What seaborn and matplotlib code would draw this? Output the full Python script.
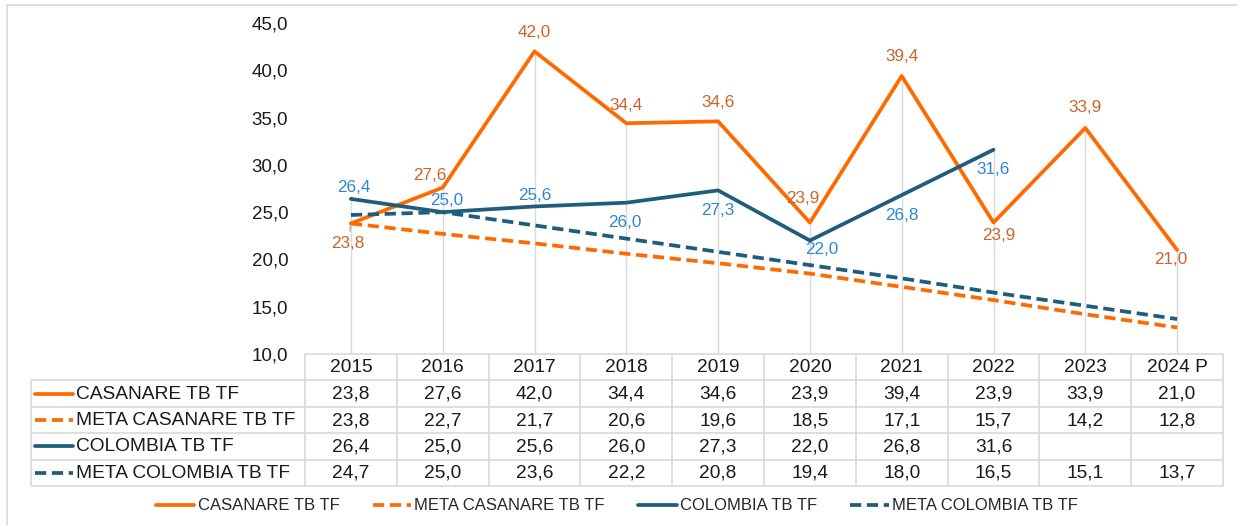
import numpy as np
import pandas as pd
import matplotlib
matplotlib.use("Agg")
import matplotlib.pyplot as plt
from matplotlib.lines import Line2D
import seaborn as sns

years = ["2015", "2016", "2017", "2018", "2019", "2020", "2021", "2022", "2023", "2024 P"]
casanare = [23.8, 27.6, 42.0, 34.4, 34.6, 23.9, 39.4, 23.9, 33.9, 21.0]
meta_casanare = [23.8, 22.7, 21.7, 20.6, 19.6, 18.5, 17.1, 15.7, 14.2, 12.8]
colombia = [26.4, 25.0, 25.6, 26.0, 27.3, 22.0, 26.8, 31.6, np.nan, np.nan]
meta_colombia = [24.7, 25.0, 23.6, 22.2, 20.8, 19.4, 18.0, 16.5, 15.1, 13.7]
series_names = ["CASANARE TB TF", "META CASANARE TB TF", "COLOMBIA TB TF", "META COLOMBIA TB TF"]
y_ticks = [10, 15, 20, 25, 30, 35, 40, 45]

df = pd.DataFrame({"x": np.arange(len(years)), "year": years})
for name, vals in zip(series_names, [casanare, meta_casanare, colombia, meta_colombia]):
    df[name] = vals

ORANGE = "#FF6A00"
BLUE = "#1F5D7D"
ORANGE_LBL = "#C9642A"
BLUE_LBL = "#2E86D2"
GRID = "#D9D9D9"
styles = {
    "CASANARE TB TF": (ORANGE, None),
    "META CASANARE TB TF": (ORANGE, (3, 1.5)),
    "COLOMBIA TB TF": (BLUE, None),
    "META COLOMBIA TB TF": (BLUE, (3, 1.5)),
}

sns.set_theme(style="white")
plt.rcParams["font.family"] = ["Liberation Sans", "DejaVu Sans"]

def fmt(v):
    return "" if pd.isna(v) else f"{v:.1f}".replace(".", ",")

W, H = 1237, 525
fig = plt.figure(figsize=(W / 100, H / 100), dpi=100)
fig.patch.set_facecolor("white")

# figure frame (left and top edge visible)
fig.add_artist(Line2D([7 / W, 7 / W], [0, 1 - 5 / H], color=GRID, lw=1.2))
fig.add_artist(Line2D([7 / W, 1], [1 - 5 / H, 1 - 5 / H], color=GRID, lw=1.2))

col_w = 91.8
ax = fig.add_axes([305 / W, 1 - 354 / H, 918 / W, (354 - 23) / H])

# drop lines from the highest point of each category
maxes = df[series_names].max(axis=1)
ax.vlines(df["x"], 10, maxes, color=GRID, lw=1, zorder=0)

handles = []
for name in series_names:
    color, dash = styles[name]
    sns.lineplot(data=df, x="x", y=name, ax=ax, color=color, lw=2.7, zorder=3)
    line = ax.lines[-1]
    if dash is not None:
        line.set_dashes(dash)
    handles.append(line)

ax.set_xlim(-0.5, len(years) - 0.5)
ax.set_ylim(10, 45)
ax.set_xticks([])
ax.set_yticks(y_ticks)
ax.set_yticklabels([f"{t:.1f}".replace(".", ",") for t in y_ticks], fontsize=13.5, color="#1a1a1a")
ax.tick_params(axis="y", length=0, pad=12)
ax.set_xlabel("")
ax.set_ylabel("")
for s in ax.spines.values():
    s.set_visible(False)

# data labels (offsets in pixels from the point)
casanare_off = [(-3, -20), (-13, 12), (0, 19), (0, 18), (0, 19), (-7, 24), (0, 19), (5, -13), (0, 20), (-6, -10)]
colombia_off = [(3, 11), (4, 12), (0, 11), (-1, -20), (0, -20), (12, -9), (0, -20), (0, -20)]
for i, (v, off) in enumerate(zip(casanare, casanare_off)):
    kw = {}
    if i == 0:
        kw["arrowprops"] = dict(arrowstyle="-", color="#A6A6A6", lw=0.9, shrinkA=1, shrinkB=2)
    ax.annotate(fmt(v), (i, v), xytext=off, textcoords="offset pixels", ha="center", va="center",
                fontsize=12.3, color=ORANGE_LBL, zorder=5, **kw)
for i, (v, off) in enumerate(zip(colombia, colombia_off)):
    ax.annotate(fmt(v), (i, v), xytext=off, textcoords="offset pixels", ha="center", va="center",
                fontsize=12.3, color=BLUE_LBL, zorder=5)

# data table under the plot
def cx(px):
    return -0.5 + (px - 305) / col_w

tax = fig.add_axes([31 / W, 1 - 486 / H, (1223 - 31) / W, (486 - 354) / H])
tax.set_xlim(cx(31), cx(1223))
tax.set_ylim(5, 0)
tax.axis("off")
n = len(years)
tax.hlines(0, -0.5, n - 0.5, color=GRID, lw=1.2, clip_on=False)
tax.hlines([1, 2, 3, 4, 5], cx(31), n - 0.5, color=GRID, lw=1.2, clip_on=False)
tax.vlines(cx(31), 1, 5, color=GRID, lw=1.2, clip_on=False)
tax.vlines(np.arange(n + 1) - 0.5, 0, 5, color=GRID, lw=1.2, clip_on=False)

for i, yr in enumerate(years):
    tax.text(i, 0.52, yr, ha="center", va="center", fontsize=13.8, color="#1a1a1a")
for r, name in enumerate(series_names):
    color, dash = styles[name]
    key = Line2D([cx(35), cx(73)], [r + 1.5, r + 1.5], color=color, lw=2.7)
    if dash is not None:
        key.set_dashes(dash)
    tax.add_line(key)
    tax.text(cx(76), r + 1.52, name, ha="left", va="center", fontsize=13.8, color="#1a1a1a")
    for i, v in enumerate(df[name]):
        tax.text(i, r + 1.52, fmt(v), ha="center", va="center", fontsize=13.8, color="#1a1a1a")

fig.legend(handles, series_names, loc="center", bbox_to_anchor=(617 / W, 1 - 506 / H), ncol=4,
           frameon=False, fontsize=12, handlelength=2.3, handletextpad=0.2, columnspacing=2.0)

fig.savefig("out.png", dpi=100, facecolor="white")
